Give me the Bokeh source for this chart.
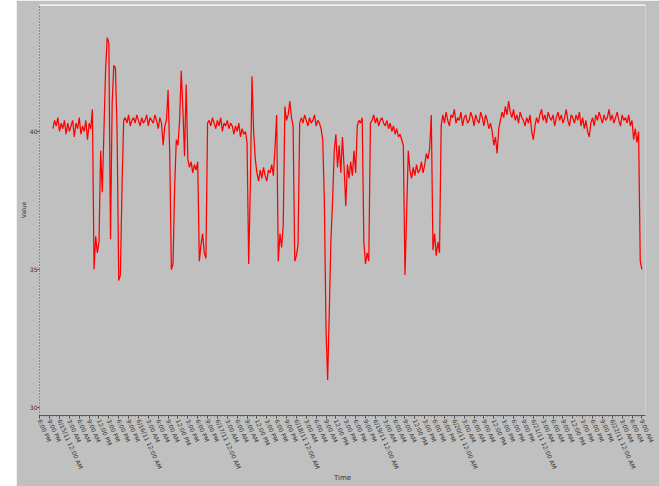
from datetime import datetime, timedelta
from bokeh.plotting import figure
from bokeh.models import Range1d, FixedTicker, Span
from bokeh.embed import file_html
from bokeh.resources import INLINE

# ---- data ----
start_date = datetime(2011, 6, 15)       # midnight of first labelled day
first_hour = -2.0                         # first sample, hours relative to start_date
step_hours = 0.5                          # sampling interval

values = [
    # baseline
    40.1, 40.4, 40.2, 40.5, 40.0, 40.3, 40.1, 40.4, 39.9, 40.3,
    40.0, 40.2, 40.4, 39.8, 40.3, 40.1, 40.5, 39.9, 40.2, 40.0,
    40.4, 39.7, 40.3,
    # first disturbance
    40.1, 40.8, 35.0, 36.2, 35.6, 36.0, 39.3, 37.8, 40.0, 42.2,
    43.4, 43.2, 36.1, 41.0, 42.4, 42.3, 40.0, 34.6, 34.8, 38.0,
    40.4,
    # baseline
    40.5, 40.3, 40.6, 40.2, 40.4, 40.5, 40.3, 40.6, 40.4, 40.2,
    40.5, 40.3, 40.4, 40.6, 40.2, 40.5, 40.4, 40.3, 40.6, 40.4,
    40.1, 40.5, 40.3, 39.5, 40.2, 40.4,
    # second disturbance
    41.5, 39.2, 35.0, 35.2, 38.0, 39.7, 39.5, 40.4, 42.2, 40.8,
    39.1, 41.7, 39.0, 38.7, 38.9, 38.5, 38.8, 38.6, 38.9, 35.3,
    35.9, 36.3, 35.6, 35.4, 40.3,
    # baseline
    40.4, 40.2, 40.5, 40.3, 40.1, 40.4, 40.2, 40.5, 40.0, 40.3,
    40.2, 40.4, 40.1, 40.3, 40.2, 39.9, 40.2, 40.0, 40.3, 39.8,
    40.1, 39.9, 40.0,
    # third disturbance
    39.6, 35.2, 38.0, 42.0, 40.0, 39.0,
    38.5, 38.2, 38.6, 38.3, 38.7, 38.4, 38.2, 38.6, 38.5, 38.8, 38.4,
    39.4, 40.6, 35.3, 36.3, 35.8, 36.6, 40.9, 40.4, 40.6, 41.1,
    40.5, 40.2, 35.3, 35.5, 35.9, 40.3,
    # baseline
    40.5, 40.3, 40.6, 40.4, 40.2, 40.5, 40.3, 40.4, 40.6, 40.2, 40.4, 40.3, 40.1,
    # deep dip
    39.7, 37.5, 32.8, 31.0, 33.5, 36.1, 37.5, 39.3, 39.9, 38.7,
    39.5, 38.5, 39.8, 38.7, 37.3, 38.8, 38.3, 38.9, 38.4, 39.3,
    38.5, 40.2, 40.4, 40.3, 40.5, 36.0, 35.2, 35.6, 35.3, 40.3,
    # baseline
    40.4, 40.6, 40.3, 40.5, 40.2, 40.4, 40.5, 40.3, 40.2, 40.4,
    40.1, 40.3, 40.0, 40.2, 39.9, 40.1, 39.8, 39.9,
    # fourth disturbance
    39.7, 39.5, 34.8, 37.0, 39.3,
    38.6, 38.3, 38.7, 38.4, 38.8, 38.5, 38.6, 38.9, 38.5, 38.8,
    39.2, 39.0, 39.4, 40.6, 35.7, 36.3, 35.5, 36.0, 35.6, 40.2,
    # long baseline
    40.6, 40.3, 40.7, 40.4, 40.2, 40.6, 40.5, 40.8, 40.3, 40.5,
    40.4, 40.7, 40.2, 40.5, 40.6, 40.3, 40.4, 40.7, 40.5, 40.2,
    40.6, 40.4, 40.3, 40.7, 40.5, 40.2, 40.6, 40.4, 40.1, 40.3,
    40.0, 39.5, 39.8, 39.2, 40.1, 40.4, 40.7, 40.5, 40.9, 40.6,
    41.1, 40.7, 40.5, 40.8, 40.4, 40.6, 40.3, 40.7, 40.5, 40.4,
    40.2, 40.5, 40.3, 40.6, 40.0, 39.7, 40.2, 40.5, 40.3, 40.6,
    40.8, 40.4, 40.6, 40.3, 40.7, 40.5, 40.4, 40.6, 40.2, 40.5,
    40.7, 40.4, 40.6, 40.3, 40.5, 40.8, 40.4, 40.2, 40.6, 40.5,
    40.3, 40.6, 40.4, 40.7, 40.2, 40.5, 40.1, 40.4, 40.0, 39.8,
    40.3, 40.5, 40.2, 40.6, 40.4, 40.7, 40.5, 40.3, 40.6, 40.4,
    40.5, 40.8, 40.4, 40.6, 40.3, 40.5, 40.7, 40.4, 40.2, 40.6,
    40.4, 40.5, 40.3, 40.6, 40.2, 40.4, 39.7, 40.1, 39.6, 40.0,
    # final drop
    35.3, 35.0,
]

hours = [first_hour + step_hours * i for i in range(len(values))]

# x ticks every 3 hours
tick_hours = list(range(-6, 178, 3))
minor_hours = list(range(-6, 178, 1))


def fmt(h):
    t = start_date + timedelta(hours=h)
    hr = t.hour % 12 or 12
    ampm = "AM" if t.hour < 12 else "PM"
    s = f"{hr}:00 {ampm}"
    if t.hour == 0:
        s = f"{t.month}/{t.day}/{t.year % 100} " + s
    return s


tick_labels = [fmt(h) for h in tick_hours]
y_ticks = [30, 35, 40]

GRAY = "#c0c0c0"
TXT = "#333333"

Y0, Y1 = 29.71, 44.6

p = figure(width=643, height=486, output_backend="svg", toolbar_location=None,
           x_range=Range1d(-6.08, 178.1), y_range=Range1d(Y0, Y1),
           background_fill_color=GRAY, border_fill_color=GRAY,
           min_border_left=18, min_border_right=14, min_border_top=4,
           min_border_bottom=71)
p.margin = (0, 0, 0, 16)
p.outline_line_color = None
p.xgrid.grid_line_color = None
p.ygrid.grid_line_color = None

p.add_layout(Span(location=Y1 - 0.02, dimension="width",
                  line_color="white", line_width=1.5))

p.line(hours, values, line_color="#ff0000", line_width=1.25)

xa = p.xaxis[0]
xa.ticker = FixedTicker(ticks=tick_hours, minor_ticks=minor_hours)
xa.major_label_overrides = {h: lab for h, lab in zip(tick_hours, tick_labels)}
xa.major_label_orientation = -1.15
xa.major_label_text_font = "DejaVu Sans"
xa.major_label_text_font_size = "6px"
xa.major_label_text_color = TXT
xa.major_label_standoff = 1
xa.axis_line_color = "#555555"
xa.major_tick_line_color = "#444444"
xa.minor_tick_line_color = "#666666"
xa.major_tick_out = 3
xa.major_tick_in = 0
xa.minor_tick_out = 1
xa.minor_tick_in = 0
xa.axis_label = "Time"
xa.axis_label_text_font = "DejaVu Sans"
xa.axis_label_text_font_size = "7px"
xa.axis_label_text_font_style = "normal"
xa.axis_label_text_color = TXT
xa.axis_label_standoff = 0

ya = p.yaxis[0]
ya.ticker = FixedTicker(ticks=y_ticks)
ya.major_label_text_font = "DejaVu Sans"
ya.major_label_text_font_size = "6px"
ya.major_label_text_color = TXT
ya.major_label_standoff = 0
ya.axis_line_color = "#444444"
ya.axis_line_dash = "1 2"
ya.major_tick_line_color = "#444444"
ya.major_tick_out = 2
ya.major_tick_in = 0
ya.minor_tick_line_color = None
ya.axis_label = "Value"
ya.axis_label_text_font = "DejaVu Sans"
ya.axis_label_text_font_size = "6px"
ya.axis_label_text_font_style = "normal"
ya.axis_label_text_color = TXT
ya.axis_label_standoff = 0

open("out.html", "w").write(file_html(p, INLINE))
